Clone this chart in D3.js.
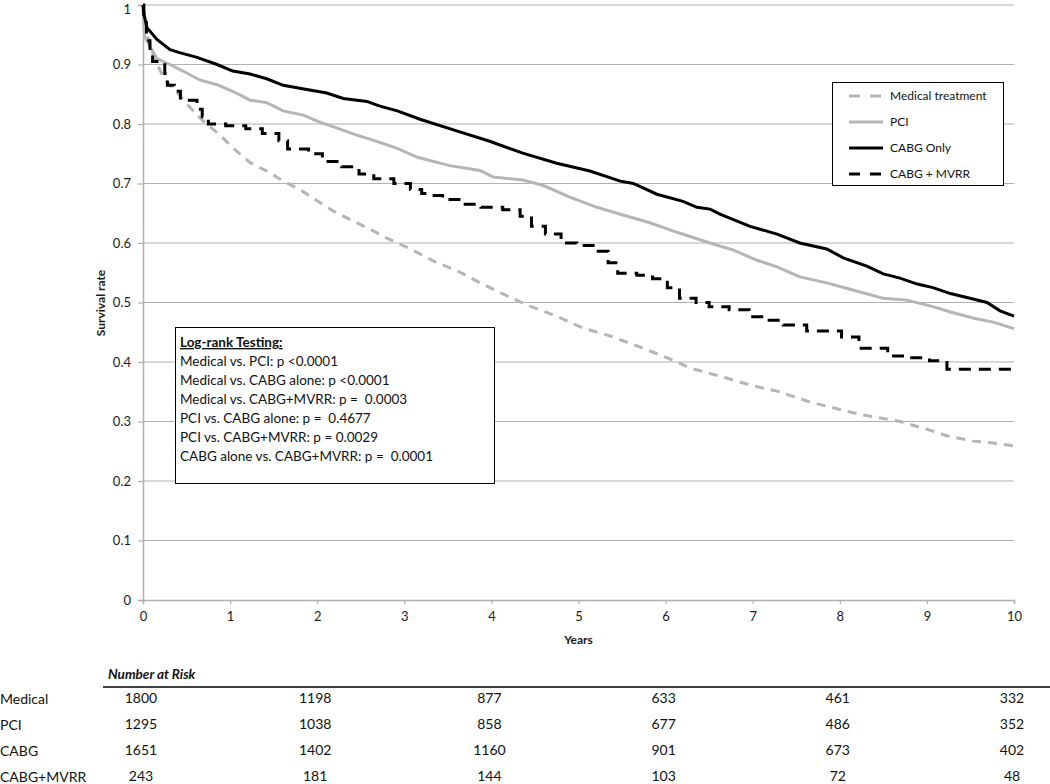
<!DOCTYPE html>
<html>
<head>
<meta charset="utf-8">
<script src="https://cdn.jsdelivr.net/npm/d3@7"></script>
<style>
  html, body { margin: 0; padding: 0; background: #fff; }
  svg { display: block; font-family: Lato, "Liberation Sans", Arial, sans-serif; }
</style>
</head>
<body>
<svg id="chart" width="1050" height="784"></svg>
<script>
// ---------- data ----------
const yearTicks = [0,1,2,3,4,5,6,7,8,9,10];
const survivalTicks = [0,0.1,0.2,0.3,0.4,0.5,0.6,0.7,0.8,0.9,1];

const seriesNames = ["Medical treatment", "PCI", "CABG Only", "CABG + MVRR"];

// [years, survival]
const medicalCurve = [[0,1],[0.02,0.975],[0.05,0.95],[0.14,0.906],[0.25,0.875],[0.39,0.853],[0.51,0.833],[0.62,0.815],[0.73,0.80],[0.88,0.782],[1.03,0.76],[1.23,0.735],[1.42,0.721],[1.61,0.704],[1.80,0.69],[2.0,0.671],[2.18,0.654],[2.41,0.637],[2.61,0.623],[2.8,0.608],[3.07,0.59],[3.33,0.57],[3.61,0.553],[3.87,0.533],[4.18,0.511],[4.44,0.494],[4.75,0.477],[5.05,0.457],[5.36,0.444],[5.67,0.427],[6.02,0.407],[6.28,0.39],[6.7,0.373],[7.0,0.36],[7.28,0.351],[7.63,0.334],[7.92,0.323],[8.23,0.312],[8.54,0.304],[8.69,0.30],[9.0,0.287],[9.23,0.276],[9.53,0.267],[9.76,0.264],[10,0.259]];

const pciCurve = [[0,1],[0.01,0.965],[0.02,0.947],[0.08,0.93],[0.16,0.91],[0.31,0.90],[0.46,0.889],[0.65,0.874],[0.85,0.866],[1.03,0.855],[1.23,0.84],[1.42,0.836],[1.61,0.822],[1.84,0.815],[2.03,0.803],[2.23,0.793],[2.46,0.781],[2.64,0.773],[2.92,0.759],[3.15,0.744],[3.52,0.73],[3.87,0.722],[4.02,0.711],[4.36,0.706],[4.59,0.697],[4.90,0.677],[5.21,0.66],[5.51,0.647],[5.82,0.634],[6.13,0.618],[6.51,0.60],[6.78,0.588],[7.05,0.571],[7.28,0.56],[7.54,0.543],[7.85,0.533],[8.15,0.521],[8.50,0.507],[8.77,0.504],[9.07,0.493],[9.27,0.484],[9.53,0.474],[9.76,0.467],[10,0.456]];

const cabgCurve = [[0,1],[0.01,0.985],[0.046,0.962],[0.16,0.942],[0.31,0.925],[0.42,0.92],[0.62,0.912],[0.85,0.90],[1.03,0.889],[1.23,0.884],[1.42,0.876],[1.61,0.865],[1.88,0.858],[2.11,0.852],[2.30,0.843],[2.57,0.838],[2.72,0.83],[2.92,0.822],[3.18,0.808],[3.61,0.788],[3.98,0.771],[4.36,0.751],[4.75,0.734],[5.13,0.721],[5.48,0.704],[5.63,0.70],[5.90,0.682],[6.20,0.67],[6.36,0.66],[6.51,0.657],[6.63,0.648],[6.97,0.628],[7.28,0.615],[7.54,0.60],[7.85,0.59],[8.04,0.575],[8.31,0.561],[8.50,0.548],[8.69,0.541],[8.89,0.531],[9.07,0.525],[9.27,0.515],[9.53,0.506],[9.69,0.50],[9.84,0.486],[10,0.477]];

// step function: [time of drop, new survival]
const mvrrSteps = [[0,1],[0.01,0.97],[0.04,0.94],[0.08,0.92],[0.11,0.905],[0.25,0.885],[0.28,0.865],[0.36,0.855],[0.43,0.84],[0.62,0.825],[0.68,0.812],[0.75,0.80],[0.95,0.797],[1.18,0.792],[1.37,0.784],[1.56,0.772],[1.66,0.758],[1.9,0.75],[2.06,0.737],[2.28,0.728],[2.48,0.716],[2.65,0.708],[2.88,0.70],[3.07,0.69],[3.2,0.683],[3.26,0.68],[3.44,0.673],[3.66,0.665],[3.88,0.66],[4.13,0.656],[4.33,0.645],[4.46,0.628],[4.62,0.615],[4.8,0.60],[4.98,0.596],[5.2,0.586],[5.34,0.567],[5.45,0.549],[5.67,0.546],[5.85,0.54],[6.02,0.525],[6.16,0.507],[6.35,0.50],[6.5,0.493],[6.73,0.488],[6.96,0.476],[7.13,0.47],[7.35,0.462],[7.62,0.452],[8.02,0.442],[8.22,0.423],[8.55,0.41],[8.8,0.407],[9.03,0.402],[9.23,0.388],[10,0.388]];

const riskYears = [0,2,4,6,8,10];
const riskGroups = ["Medical", "PCI", "CABG", "CABG+MVRR"];
const riskMedical = [1800,1198,877,633,461,332];
const riskPCI = [1295,1038,858,677,486,352];
const riskCABG = [1651,1402,1160,901,673,402];
const riskMVRR = [243,181,144,103,72,48];

const logRankTitle = "Log-rank Testing:";
const logRankLines = [
  "Medical vs. PCI: p <0.0001",
  "Medical vs. CABG alone: p <0.0001",
  "Medical vs. CABG+MVRR: p =  0.0003",
  "PCI vs. CABG alone: p =  0.4677",
  "PCI vs. CABG+MVRR: p = 0.0029",
  "CABG alone vs. CABG+MVRR: p =  0.0001"
];

// ---------- drawing ----------
const svg = d3.select("#chart");
const x = d3.scaleLinear().domain([0,10]).range([143,1014]);
const y = d3.scaleLinear().domain([0,1]).range([600,5]);
const grid = "#b0b0b0";
const lightLine = "#b5b5b5";

// gridlines
svg.append("g").selectAll("line").data(survivalTicks.filter(d => d > 0)).join("line")
  .attr("x1", x(0)).attr("x2", x(10))
  .attr("y1", d => y(d)).attr("y2", d => y(d))
  .attr("stroke", grid).attr("stroke-width", 1.2);

// y axis
const yAxis = svg.append("g").attr("transform", `translate(${x(0)},0)`)
  .call(d3.axisLeft(y).tickValues(survivalTicks).tickFormat(d => d3.format("~g")(d)).tickSize(5).tickPadding(7));
yAxis.select(".domain").attr("stroke", grid).attr("stroke-width", 1.5);
yAxis.selectAll(".tick line").attr("stroke", grid).attr("stroke-width", 1.2);
yAxis.selectAll("text").attr("font-size", 13).attr("fill", "#1a1a1a")
  .attr("dy", d => d === 1 ? "0.62em" : "0.32em")
  .style("font-family", "Lato, 'Liberation Sans', sans-serif");

// x axis
const xAxis = svg.append("g").attr("transform", `translate(0,${y(0)})`)
  .call(d3.axisBottom(x).tickValues(yearTicks).tickFormat(d3.format("d")).tickSize(4).tickPadding(8));
xAxis.select(".domain").attr("stroke", grid).attr("stroke-width", 1.5);
xAxis.selectAll(".tick line").attr("stroke", grid).attr("stroke-width", 1.2);
xAxis.selectAll("text").attr("font-size", 13).attr("fill", "#1a1a1a").style("font-family", "Lato, 'Liberation Sans', sans-serif");

// axis titles
svg.append("text").attr("x", (x(0)+x(10))/2).attr("y", 644).attr("text-anchor", "middle")
  .attr("font-size", 12).attr("font-weight", "bold").attr("fill", "#1a1a1a").text("Years");
svg.append("text").attr("transform", `translate(105,303) rotate(-90)`).attr("text-anchor", "middle")
  .attr("font-size", 12).attr("font-weight", "bold").attr("fill", "#1a1a1a").text("Survival rate");

// curves
const line = d3.line().x(d => x(d[0])).y(d => y(d[1]));
const stepLine = d3.line().x(d => x(d[0])).y(d => y(d[1])).curve(d3.curveStepAfter);

const styles = [
  {data: medicalCurve, gen: line, color: lightLine, dash: "9,7"},
  {data: pciCurve, gen: line, color: lightLine, dash: null},
  {data: cabgCurve, gen: line, color: "#000", dash: null},
  {data: mvrrSteps, gen: stepLine, color: "#000", dash: "12,8"}
];
styles.forEach(s => {
  svg.append("path").attr("d", s.gen(s.data)).attr("fill", "none")
    .attr("stroke", s.color).attr("stroke-width", 3)
    .attr("stroke-dasharray", s.dash).attr("stroke-linejoin", "miter");
});

// legend
const lg = svg.append("g");
lg.append("rect").attr("x", 832.5).attr("y", 82.5).attr("width", 171).attr("height", 103)
  .attr("fill", "#fff").attr("stroke", "#000").attr("stroke-width", 1);
seriesNames.forEach((name, i) => {
  const cy = 96 + i * 26;
  lg.append("line").attr("x1", 849).attr("x2", 883).attr("y1", cy).attr("y2", cy)
    .attr("stroke", styles[i].color).attr("stroke-width", 3)
    .attr("stroke-dasharray", styles[i].dash ? "11,10" : null);
  lg.append("text").attr("x", 890).attr("y", cy + 4).attr("font-size", 12).attr("fill", "#111").text(name);
});

// log-rank box
const bx = svg.append("g");
bx.append("rect").attr("x", 175.5).attr("y", 327.5).attr("width", 319).attr("height", 156)
  .attr("fill", "#fff").attr("stroke", "#000").attr("stroke-width", 1);
bx.append("text").attr("x", 180).attr("y", 347).attr("font-size", 13.5).attr("font-weight", "bold")
  .attr("text-decoration", "underline").attr("fill", "#111").text(logRankTitle);
bx.selectAll("text.lr").data(logRankLines).join("text").attr("class", "lr")
  .attr("x", 180).attr("y", (d, i) => 366 + i * 19).attr("font-size", 13.5).attr("fill", "#111")
  .style("white-space", "pre").attr("xml:space", "preserve").text(d => d);

// number at risk table
svg.append("text").attr("x", 108).attr("y", 679).attr("font-size", 13.5).attr("font-weight", "bold")
  .attr("font-style", "italic").attr("fill", "#111").text("Number at Risk");
svg.append("line").attr("x1", 103).attr("x2", 1050).attr("y1", 687).attr("y2", 687)
  .attr("stroke", "#000").attr("stroke-width", 1.5);
const riskRows = [riskMedical, riskPCI, riskCABG, riskMVRR];
riskRows.forEach((row, r) => {
  const base = 703 + r * 26;
  svg.append("text").attr("x", 0).attr("y", base + 1).attr("font-size", 14).attr("fill", "#111").text(riskGroups[r]);
  row.forEach((v, k) => {
    svg.append("text").attr("x", x(riskYears[k]) - 2).attr("y", base).attr("text-anchor", "middle")
      .attr("font-size", 14).attr("fill", "#111").text(v);
  });
});
</script>
</body>
</html>
